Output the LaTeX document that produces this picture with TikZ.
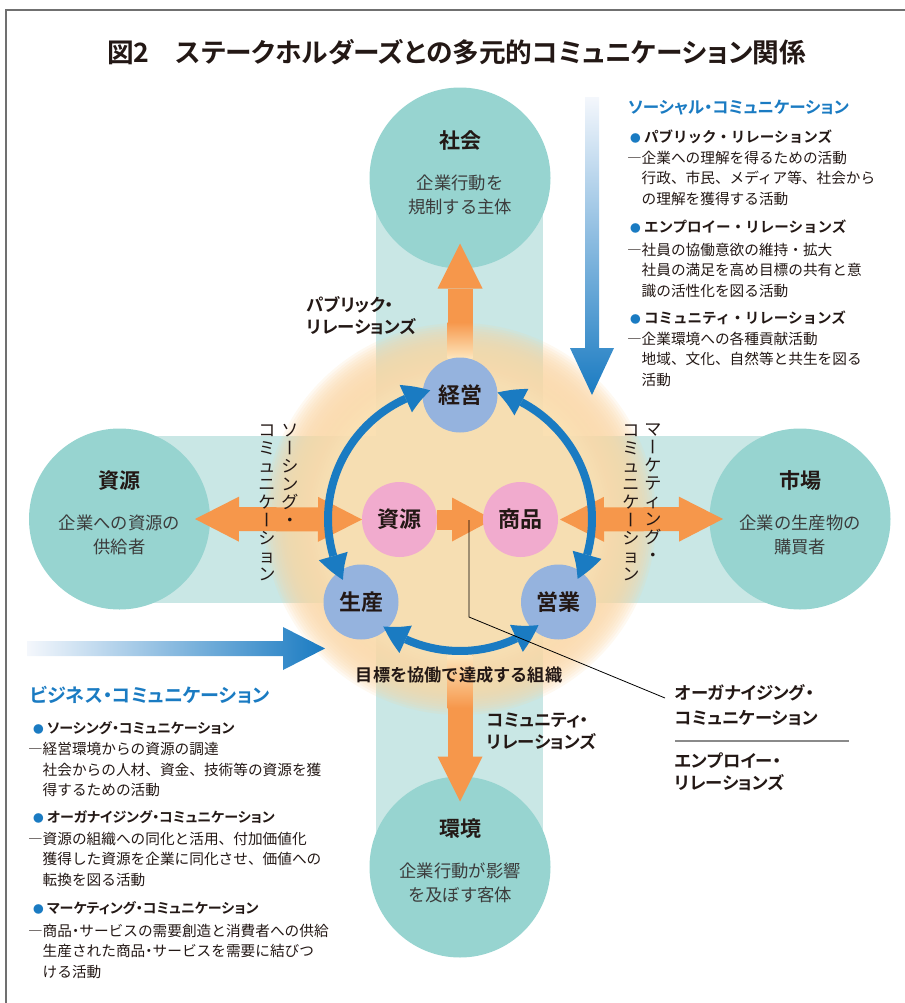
\documentclass[tikz,border=0pt]{standalone}
\usepackage{fontspec}
\setmainfont{Noto Sans CJK JP}[BoldFont={Noto Sans CJK JP Bold}]
\newfontfamily\jpp{Noto Sans CJK JP}[RawFeature=+palt,BoldFont={Noto Sans CJK JP Bold}]
\usepackage{graphicx}
\usetikzlibrary{arrows.meta,bending,calc}
\pgfdeclarelayer{back}
\pgfdeclarelayer{mid}
\pgfsetlayers{back,mid,main}

\definecolor{tealc}{HTML}{97D4D0}
\definecolor{tealb}{HTML}{C9E7E5}
\definecolor{orangeA}{HTML}{F6974B}
\definecolor{glowc}{HTML}{FDE5BB}
\definecolor{glowo}{HTML}{FAD39E}
\definecolor{bnode}{HTML}{95B3DE}
\definecolor{pnode}{HTML}{F1ABCE}
\definecolor{blueA}{HTML}{1A7BC2}
\definecolor{txt}{HTML}{231815}
\definecolor{subtxt}{HTML}{3C3C3C}
\definecolor{framec}{HTML}{707070}
\definecolor{sepc}{HTML}{8A8A8A}
\definecolor{lightblue}{HTML}{F4F7FC}
\definecolor{midblue}{HTML}{A3BCE2}

\newcommand\vbar{\rotatebox[origin=c]{-90}{\raisebox{0pt}[0.88em][0.12em]{ー}}}
\newcommand\bul{\textcolor{blueA}{\fontsize{8}{8}\selectfont ●}\hspace{2.5pt}}
\newcommand\ndot{\makebox[0.5em]{・}}

\tikzset{
  every node/.style={inner sep=0pt, outer sep=0pt, text=txt},
  tealcirc/.style={circle, fill=tealc, minimum size=135.75pt},
  ctitle/.style={font=\jpp\bfseries\fontsize{15.75}{18}\selectfont},
  csub/.style={font=\fontsize{13}{18}\selectfont, text=subtxt, align=center},
  incirc/.style={circle, minimum size=56.25pt, font=\jpp\bfseries\fontsize{16.5}{18}\selectfont},
  lbl/.style={font=\jpp\bfseries\fontsize{13}{16.5}\selectfont, align=left, anchor=west},
  vtext/.style={font=\fontsize{12.8}{13.5}\selectfont, align=center},
  oarr/.style={draw=orangeA, line width=18.75pt, -{Triangle[width=33.75pt,length=33.75pt,line width=0pt]}},
  odbl/.style={draw=orangeA, line width=18pt, {Triangle[width=33.75pt,length=33pt,line width=0pt]}-{Triangle[width=33.75pt,length=33pt,line width=0pt]}},
  barc/.style={draw=blueA, line width=6pt, {Triangle[width=22.5pt,length=19.5pt,line width=0pt,bend]}-{Triangle[width=22.5pt,length=19.5pt,line width=0pt,bend]}},
  bhead/.style={text=blueA, anchor=west},
  rttl/.style={font=\bfseries\fontsize{10.9}{15}\selectfont, anchor=west},
  lttl/.style={font=\jpp\bfseries\fontsize{10.5}{15}\selectfont, anchor=west},
  btext/.style={font=\fontsize{11}{15.4}\selectfont, align=left, anchor=west},
}

\begin{document}
\begin{tikzpicture}[x=0.75pt,y=0.75pt]
\useasboundingbox (0,0) rectangle (905,-1003);

% frame
\coordinate (fTL) at (6,-10);
\coordinate (fTR) at (905,-10);
\coordinate (fBL) at (6,-1003);
\draw[framec, line width=1.1pt] (fTR) -- (fTL) -- (fBL);

% title
\node[anchor=west, font=\jpp\bfseries\fontsize{20}{22}\selectfont] (title) at (107,-52) {図2　ステークホルダーズとの多元的コミュニケーション関係};

% ---------- back layer: bands, glow, stakeholder circles
\begin{pgfonlayer}{back}
\fill[tealb] (376,-178) rectangle (543,-867);
\fill[tealb] (119.5,-436) rectangle (800,-603);
\coordinate (cc) at (460,-519);
\foreach \r [evaluate=\r as \p using {int(100*(196-\r)/56)}] in {196,193.5,...,140}
  {\fill[glowc!\p!glowo, opacity=0.14] (cc) circle (\r);}
\node[tealcirc] (shakai) at (460,-178) {};
\node[tealcirc] (shigenO) at (119.5,-519) {};
\node[tealcirc] (shijo) at (800,-519) {};
\node[tealcirc] (kankyo) at (460,-867) {};
\end{pgfonlayer}

% stakeholder texts
\node[ctitle] (shakaiT) at (460,-141) {社会};
\node[csub] (shakaiS) at (460,-195) {企業行動を\\規制する主体};
\node[ctitle] (shigenT) at (119.5,-481) {資源};
\node[csub] (shigenS) at (119.5,-535) {企業への資源の\\供給者};
\node[ctitle] (shijoT) at (800,-481) {市場};
\node[csub] (shijoS) at (800,-535) {企業の生産物の\\購買者};
\node[ctitle] (kankyoT) at (460,-829) {環境};
\node[csub] (kankyoS) at (460,-882.5) {企業行動が影響\\を及ぼす客体};

% inner circles
\node[incirc, fill=bnode] (keiei) at (460,-395) {経営};
\node[incirc, fill=pnode] (shigenI) at (399.5,-519.5) {資源};
\node[incirc, fill=pnode] (shohin) at (520.5,-519.5) {商品};
\node[incirc, fill=bnode] (seisan) at (361,-602) {生産};
\node[incirc, fill=bnode] (eigyo) at (558.5,-602) {営業};

% ---------- orange arrows
\coordinate (dtop) at (460,-655);
\begin{pgfonlayer}{mid}
\draw[oarr] (keiei.north) -- ($(shakai.south)+(0,25)$);
\shade[top color=orangeA, bottom color=glowc] (447.5,-322) rectangle (472.5,-358);
\draw[oarr] (dtop) -- ($(kankyo.north)+(0,-25)$);
\shade[top color=glowc, bottom color=orangeA] (447.5,-655) rectangle (472.5,-708);
\draw[odbl] ($(shigenO.east)+(-15,0)$) -- (shigenI.west);
\draw[draw=orangeA, line width=15pt, -{Triangle[width=33pt,length=30.75pt,line width=0pt]}] (shigenI.east) -- ($(shohin.west)+(10,0)$);
\draw[odbl] ($(shohin.east)+(2,0)$) -- ($(shijo.west)+(13.5,0)$);
\end{pgfonlayer}

% ---------- blue circular arrows
\draw[barc] ($(cc)+(207.5:132)$) arc[start angle=207.5, end angle=103, radius=132];
\draw[barc] ($(cc)+(73.5:132)$) arc[start angle=73.5, end angle=-27, radius=132];
\draw[barc] ($(cc)+(234.5:132)$) arc[start angle=234.5, end angle=306.5, radius=132];

% labels in diagram
\node[lbl] (prl) at (307,-316) {パブリック・\\リレーションズ};
\node[lbl] (crl) at (487,-731) {コミュニティ・\\リレーションズ};
\node[font=\bfseries\fontsize{12.9}{15}\selectfont] (goal) at (459,-675) {目標を協働で達成する組織};

% vertical labels
\node[vtext] (sv1) at (290,-475) {ソ\\\vbar\\シ\\ン\\グ\\・};
\node[vtext] (sv2) at (267,-503) {コ\\ミ\\ュ\\ニ\\ケ\\\vbar\\シ\\ョ\\ン};
\node[vtext] (mv1) at (653,-493) {マ\\\vbar\\ケ\\テ\\ィ\\ン\\グ\\・};
\node[vtext] (mv2) at (631,-503) {コ\\ミ\\ュ\\ニ\\ケ\\\vbar\\シ\\ョ\\ン};

% ---------- blue gradient arrows
\shade[top color=lightblue, middle color=midblue, bottom color=blueA]
  (585,-97) -- (599,-97) -- (599,-348) -- (614,-348) -- (592,-395) -- (570,-348) -- (585,-348) -- cycle;
\shade[left color=lightblue, middle color=midblue, right color=blueA]
  (27,-641) -- (283,-641) -- (283,-627) -- (325,-648.5) -- (283,-670) -- (283,-656) -- (27,-656) -- cycle;

% ---------- organizing label with leader
\node[lbl] (orgA) at (675,-693) {オーガナイジング・};
\node[lbl] (orgB) at (675,-718) {コミュニケーション};
\node[lbl] (empA) at (675,-771.5) {エンプロイー・\\リレーションズ};
\coordinate (lp) at (469,-520);
\coordinate (lbend) at (469,-617);
\draw[black, line width=0.6pt] (lp) -- (lbend) -- ($(orgA.west)+(-10,-5)$);
\coordinate (sepL) at (675,-741);
\coordinate (sepR) at (849,-741);
\draw[sepc, line width=1.1pt] (sepL) -- (sepR);

% ---------- right text block
\node[bhead, font=\jpp\bfseries\fontsize{12.4}{15}\selectfont] (socH) at (628,-108) {ソーシャル・コミュニケーション};
\node[rttl] (r1t) at (630,-137) {\bul パブリック・リレーションズ};
\node[btext] (r1b) at (627,-178) {―企業への理解を得るための活動\\\hspace*{1em}行政、市民、メディア等、社会から\\\hspace*{1em}の理解を獲得する活動};
\node[rttl] (r2t) at (630,-227) {\bul エンプロイー・リレーションズ};
\node[btext] (r2b) at (627,-270) {―社員の協働意欲の維持・拡大\\\hspace*{1em}社員の満足を高め目標の共有と意\\\hspace*{1em}識の活性化を図る活動};
\node[rttl] (r3t) at (630,-318) {\bul コミュニティ・リレーションズ};
\node[btext] (r3b) at (627,-359) {―企業環境への各種貢献活動\\\hspace*{1em}地域、文化、自然等と共生を図る\\\hspace*{1em}活動};

% ---------- left text block
\node[bhead, font=\jpp\bfseries\fontsize{14.3}{16}\selectfont] (bizH) at (30,-695) {ビジネス・コミュニケーション};
\node[lttl] (l1t) at (33,-728) {\bul ソーシング・コミュニケーション};
\node[btext] (l1b) at (28,-769.5) {―経営環境からの資源の調達\\\hspace*{1em}社会からの人材、資金、技術等の資源を獲\\\hspace*{1em}得するための活動};
\node[lttl] (l2t) at (33,-817) {\bul オーガナイジング・コミュニケーション};
\node[btext] (l2b) at (28,-859) {―資源の組織への同化と活用、付加価値化\\\hspace*{1em}獲得した資源を企業に同化させ、価値への\\\hspace*{1em}転換を図る活動};
\node[lttl] (l3t) at (33,-908) {\bul マーケティング・コミュニケーション};
\node[btext] (l3b) at (28,-951) {―商品\ndot サービスの需要創造と消費者への供給\\\hspace*{1em}生産された商品\ndot サービスを需要に結びつ\\\hspace*{1em}ける活動};

\end{tikzpicture}
\end{document}
